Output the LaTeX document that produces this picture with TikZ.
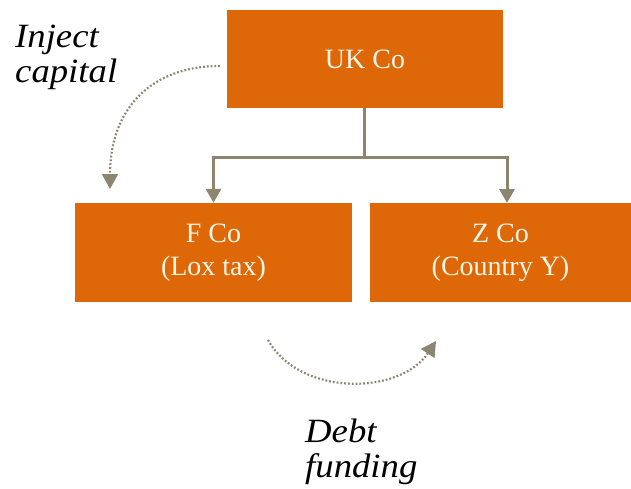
\documentclass[tikz,border=0pt]{standalone}
\usepackage{fontspec}
\setmainfont{Liberation Serif}
\newfontfamily\lblfont{Liberation Serif}[FakeStretch=1.08]
\usetikzlibrary{arrows.meta}
\definecolor{boxorange}{RGB}{222,104,8}
\definecolor{linegrey}{RGB}{140,134,112}
\definecolor{boxtext}{RGB}{255,246,232}
\tikzset{
  orgbox/.style={fill=boxorange, draw=none, text=boxtext, align=center, inner sep=0pt,
    font=\fontsize{28}{33}\selectfont},
  conn/.style={draw=linegrey, line width=3pt, -{Triangle[width=15pt,length=14pt]}},
  plainconn/.style={draw=linegrey, line width=3pt},
  flow/.style={draw=linegrey, line width=2.2pt, dash pattern=on 1.8pt off 2pt,
    -{Triangle[width=16pt,length=15pt]}},
  lbl/.style={font=\lblfont\fontsize{34}{35}\selectfont\itshape, align=left, inner sep=0pt, text=black}
}
\begin{document}
\begin{tikzpicture}[x=1pt,y=-1pt]
\useasboundingbox (0,0) rectangle (631,488);
\node[orgbox, minimum width=276pt, minimum height=98pt] (uk) at (365,59) {UK Co};
\node[orgbox, minimum width=277pt, minimum height=99pt] (f) at (213.5,252.5) {F Co\\(Lox tax)};
\node[orgbox, minimum width=261pt, minimum height=99pt] (z) at (500.5,252.5) {Z Co\\(Country Y)};
\coordinate (j) at (364,157);
\coordinate (zin) at (507,203);
\draw[plainconn] (uk.south -| j) -- (j);
\draw[conn] (j) -| (f.north);
\draw[conn] (j) -| (zin);
\node[lbl, anchor=base west] (inj) at (15,82) {Inject\\capital};
\node[lbl, anchor=base west] (debt) at (305,477) {Debt\\funding};
\coordinate (is) at (220,66);
\coordinate (ie) at (110,189);
\draw[flow] (is) .. controls (150,66) and (110,110) .. (ie);
\coordinate (ds) at (268,340);
\coordinate (de) at (436,341);
\draw[flow] (ds) .. controls (300,397) and (400,395) .. (de);
\end{tikzpicture}
\end{document}
